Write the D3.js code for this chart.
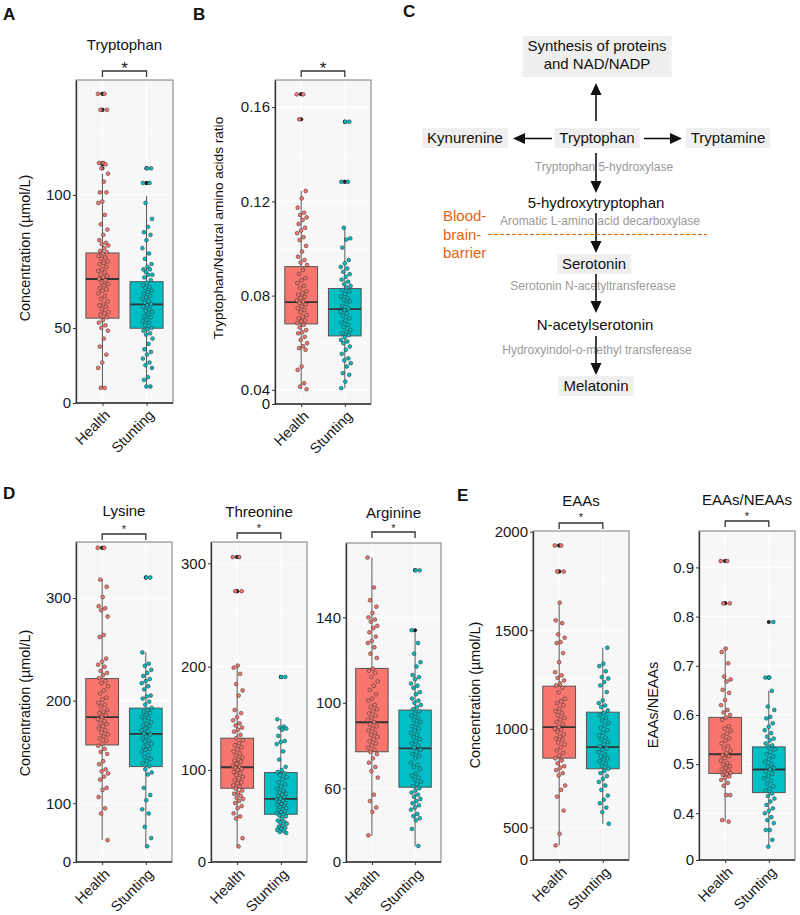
<!DOCTYPE html>
<html>
<head>
<meta charset="utf-8">
<script src="https://cdn.jsdelivr.net/npm/d3@7"></script>
<style>
  body { margin: 0; background: #fff; }
  svg { font-family: "Liberation Sans", Arial, sans-serif; }
</style>
</head>
<body>
<svg id="fig" width="800" height="915"></svg>
<script>
// DATA ------------------------------------
const groups = ["Health", "Stunting"]

// stats = [lower whisker, Q1, median, Q3, upper whisker]
const trpHealth = [138,138,132,132,112,112,111.5,110,108,105,101,101,97.5,97,92.5,89,87,85,83,82,81.5,81,80,79,78.5,78,77,76.5,76,75,74.5,74,73,72,71.5,71,70,69.5,69,68.5,68,67,66.5,66,65,64.5,64,63,62,61,60,59,58.5,58,57,56,55.5,55,54,53,52,51,50,49,46,43,40,37,35,27.5,27.5]
const trpStunting = [110,110,104.5,104.5,97,91,88,86,85,83,80,78,76,74,73,72,72,71,70,70,69,68,67,66,65.5,65,64,63.5,63,62,61.5,61,60,59.5,59,58.5,58,57,56.5,56,55,54.5,54,53,52.5,52,51,50,49.5,49,48,47.5,46,44,42,41,40,38.5,37,36,35,31.5,30.5,28,28]
const trpStatsH = [27.4, 53.7, 68.4, 78.2, 108]
const trpStatsS = [27.9, 49.9, 58.9, 67.4, 99.6]
const trpTicks = [50, 100]

const ratioHealth = [0.1654,0.1654,0.1548,0.1244,0.1213,0.1173,0.1152,0.1142,0.1132,0.1121,0.1104,0.1088,0.1076,0.1065,0.1048,0.1036,0.1011,0.0987,0.0965,0.0951,0.094,0.093,0.0909,0.0892,0.0874,0.0865,0.0853,0.0841,0.0832,0.0818,0.081,0.0804,0.0795,0.0789,0.078,0.0775,0.077,0.0762,0.0754,0.0746,0.0739,0.073,0.0718,0.071,0.0704,0.0695,0.069,0.0683,0.0676,0.0665,0.0654,0.0645,0.064,0.0625,0.0612,0.0598,0.0585,0.0577,0.057,0.0499,0.0485,0.0428,0.0414,0.0403]
const ratioStunting = [0.1538,0.1538,0.1283,0.1283,0.1088,0.1043,0.1038,0.1004,0.0951,0.0937,0.0922,0.0915,0.0901,0.0891,0.088,0.0868,0.0859,0.0849,0.0841,0.0835,0.0824,0.0817,0.0807,0.0796,0.0789,0.0782,0.0775,0.0765,0.0756,0.0746,0.0739,0.0732,0.0725,0.0714,0.0704,0.0694,0.0685,0.0676,0.0666,0.0654,0.0647,0.064,0.0633,0.0623,0.0612,0.0605,0.0598,0.0584,0.057,0.0553,0.0534,0.0525,0.0513,0.0499,0.0471,0.0464,0.0435,0.0407]
const ratioStatsH = [0.0403, 0.068, 0.0772, 0.0923, 0.1244]
const ratioStatsS = [0.0407, 0.0629, 0.0743, 0.083, 0.1088]
const ratioTicks = [0.04, 0.08, 0.12, 0.16]

const lysHealth = [349,349,318,311,301,292,290,288,282,264,262,241,238,235,233,229,227,225,222,219,217,214,210,207,203,201,198,196,194,191,189,188,186,184,182,180,178,177,175,173,171,169,167,165,163,161,158,156,153,150,148,141,138,133,131,129,126,123,115,113,106,95,90,64]
const lysStunting = [320,320,247,236,234,230,227,224,221,219,217,214,211,205,204,202,199,196,193,191,189,188,186,184,183,181,179,177,176,175,173,171,170,168,167,165,163,161,160,158,156,155,153,152,150,147,145,143,141,139,136,133,130,128,115,108,103,94,90,77,66,58]
const lysStatsH = [64, 156.8, 184, 221.5, 318.5]
const lysStatsS = [57.7, 135.7, 167.6, 192.7, 247]
const lysTicks = [100, 200, 300]

const thrHealth = [306,306,273,273,201,199,193,183,177,172,158,155,151,148,145,143,141,139,137,134,131,129,126,124,122,120,118,116,114,112,110,109,108,106,104,103,102,101,100,98,97,95,93,92,90,88,87,85,84,82,80,78,77,75,73,72,70,68,65,63,58,55,53,34,26]
const thrStunting = [190,190,149,142,141,140,139,133,128,127,125,118,110,103,100,98,97,95,93,91,88,86,84,82,80,78,77,76,75,74,72,71,70,69,68,67,66,65,64,63,62,61,60,59,58,57,56,55,53,51,50,49,48,46,45,44,43,42,41,40,39]
const thrStatsH = [25.7, 82.3, 102.6, 130.7, 201.6]
const thrStatsS = [38.7, 57.1, 71.9, 97.4, 149.4]
const thrTicks = [100, 200, 300]

const argHealth = [168,154,148,145,142,140,139,138,136,135,133,131,129,128,126,123,121,116,115,114,112,110,108,106,104,102,101,99,98,97,96,95,94,93,92,91,90,89,88,87,86,85,84,83,82,81,80,79,78,77,76,74,72,70,68,65,57,54,51,49,38]
const argStunting = [162,162,134,128,123,119,117,113,112,111,109,108,107,105,104,102,101,100,99,98,97,96,95,94,93,92,91,90,89,88,87,86,85,84,83,82,81,80,79,78,77,76,75,74,72,71,70,69,67,66,65,64,63,62,61,60,59,58,57,56,55,54,53,52,51,50,48,47,46,45,41,33]
const argStatsH = [37.7, 77.1, 90.9, 116.1, 168]
const argStatsS = [32.7, 60.5, 78.7, 96.6, 133.7]
const argTicks = [60, 100, 140]

const eaaHealth = [1930,1930,1798,1798,1640,1550,1536,1479,1462,1440,1435,1384,1338,1287,1271,1258,1245,1230,1220,1208,1185,1152,1140,1130,1120,1102,1090,1080,1068,1055,1046,1035,1022,1010,1000,995,985,971,960,950,944,930,920,905,890,878,864,850,839,825,810,802,790,775,763,712,690,656,585,467,408]
const eaaStunting = [1411,1330,1318,1292,1262,1255,1237,1220,1186,1144,1130,1118,1110,1093,1080,1068,1055,1042,1030,1017,1005,992,980,966,955,944,932,920,910,900,893,882,870,860,850,843,835,822,810,797,785,775,760,746,730,712,690,661,640,622,600,577,518]
const eaaStatsH = [408, 851, 1008, 1216, 1640]
const eaaStatsS = [518, 797, 907, 1084, 1411]
const eaaTicks = [500, 1000, 1500, 2000]

const eneHealth = [0.913,0.913,0.827,0.827,0.735,0.728,0.705,0.678,0.672,0.668,0.651,0.645,0.63,0.62,0.61,0.605,0.6,0.595,0.59,0.577,0.572,0.568,0.562,0.557,0.552,0.548,0.542,0.537,0.532,0.527,0.522,0.518,0.516,0.512,0.507,0.502,0.499,0.496,0.492,0.489,0.487,0.484,0.482,0.48,0.478,0.475,0.472,0.468,0.462,0.456,0.437,0.437,0.386,0.383]
const eneStunting = [0.789,0.676,0.676,0.649,0.617,0.61,0.596,0.593,0.583,0.576,0.569,0.563,0.556,0.552,0.548,0.542,0.538,0.535,0.53,0.525,0.52,0.515,0.51,0.505,0.5,0.495,0.492,0.489,0.485,0.48,0.476,0.471,0.466,0.46,0.455,0.45,0.446,0.44,0.435,0.43,0.424,0.417,0.41,0.405,0.4,0.392,0.386,0.38,0.366,0.366,0.346,0.332]
const eneStatsH = [0.383, 0.481, 0.52, 0.595, 0.735]
const eneStatsS = [0.332, 0.442, 0.489, 0.535, 0.649]
const eneTicks = [0.4, 0.5, 0.6, 0.7, 0.8, 0.9]

// LAYOUT ----------------------------------
const fill = {Health: "#F8766D", Stunting: "#00BFC4"}
const svg = d3.select("#fig")

const panels = [
  {title: "Tryptophan", pts: [trpHealth, trpStunting], stats: [trpStatsH, trpStatsS], ticks: trpTicks, fmt: d3.format("d"),
   x0: 76, x1: 173, y0: 80, y1: 403, ylim: [21.8, 143.2], titleY: 50, bracketY: 71, starY: 74, starSize: 17,
   ylab: "Concentration (µmol/L)", ylabX: 25, ylabY: 248, ylabSize: 14.4},
  {title: "", pts: [ratioHealth, ratioStunting], stats: [ratioStatsH, ratioStatsS], ticks: ratioTicks, fmt: d3.format(".2f"),
   x0: 275, x1: 371, y0: 80, y1: 404, ylim: [0.034, 0.1715], titleY: 50, bracketY: 71, starY: 74, starSize: 17,
   ylab: "Tryptophan/Neutral amino acids ratio", ylabX: 218, ylabY: 228, ylabSize: 13.6},
  {title: "Lysine", pts: [lysHealth, lysStunting], stats: [lysStatsH, lysStatsS], ticks: lysTicks, fmt: d3.format("d"),
   x0: 76, x1: 172, y0: 542, y1: 862, ylim: [42.7, 354.6], titleY: 516, bracketY: 534, starY: 533, starSize: 11,
   ylab: "Concentration (µmol/L)", ylabX: 25, ylabY: 703, ylabSize: 14.4},
  {title: "Threonine", pts: [thrHealth, thrStunting], stats: [thrStatsH, thrStatsS], ticks: thrTicks, fmt: d3.format("d"),
   x0: 211, x1: 307, y0: 542, y1: 862, ylim: [10.9, 320.6], titleY: 517, bracketY: 533, starY: 532, starSize: 11},
  {title: "Arginine", pts: [argHealth, argStunting], stats: [argStatsH, argStatsS], ticks: argTicks, fmt: d3.format("d"),
   x0: 346, x1: 441, y0: 543, y1: 862, ylim: [25.5, 174.8], titleY: 518, bracketY: 532, starY: 532, starSize: 11},
  {title: "EAAs", pts: [eaaHealth, eaaStunting], stats: [eaaStatsH, eaaStatsS], ticks: eaaTicks, fmt: d3.format("d"),
   x0: 533, x1: 629, y0: 531, y1: 860, ylim: [334, 2003.5], titleY: 506, bracketY: 523, starY: 521, starSize: 11,
   ylab: "Concentration (µmol/L)", ylabX: 475, ylabY: 695, ylabSize: 14.4},
  {title: "EAAs/NEAAs", pts: [eneHealth, eneStunting], stats: [eneStatsH, eneStatsS], ticks: eneTicks, fmt: d3.format(".1f"),
   x0: 699, x1: 795, y0: 531, y1: 860, ylim: [0.305, 0.974], titleY: 505, bracketY: 521, starY: 520, starSize: 11,
   ylab: "EAAs/NEAAs", ylabX: 653, ylabY: 705, ylabSize: 14.4}
]

// fixed jitter spread from the point's index (golden-ratio sequence)
const jit = i => ((i * 0.6180339887) % 1) - 0.5

function drawPanel(p) {
  const g = svg.append("g")
  const x = d3.scalePoint().domain(groups).range([p.x0, p.x1]).padding(0.6)
  const step = x.step()
  const y = d3.scaleLinear().domain(p.ylim).range([p.y1, p.y0])

  g.append("rect")
    .attr("x", p.x0).attr("y", p.y0)
    .attr("width", p.x1 - p.x0).attr("height", p.y1 - p.y0)
    .attr("fill", "#f7f7f7")

  // grid
  const d = p.ticks[1] - p.ticks[0]
  const minor = [p.ticks[0] - d / 2].concat(p.ticks.map(t => t + d / 2))
    .filter(v => v > p.ylim[0] && v < p.ylim[1])
  g.selectAll(".minor").data(minor).enter().append("line")
    .attr("x1", p.x0).attr("x2", p.x1)
    .attr("y1", v => y(v)).attr("y2", v => y(v))
    .attr("stroke", "#fff").attr("stroke-width", 0.6)
  g.selectAll(".major").data(p.ticks).enter().append("line")
    .attr("x1", p.x0).attr("x2", p.x1)
    .attr("y1", v => y(v)).attr("y2", v => y(v))
    .attr("stroke", "#fff").attr("stroke-width", 1.1)
  g.selectAll(".vgrid").data(groups).enter().append("line")
    .attr("x1", k => x(k)).attr("x2", k => x(k))
    .attr("y1", p.y0).attr("y2", p.y1)
    .attr("stroke", "#fff").attr("stroke-width", 1.1)

  const bw = step * 0.75
  groups.forEach((k, gi) => {
    const s = p.stats[gi]
    const cx = x(k)
    // whiskers
    g.append("line").attr("x1", cx).attr("x2", cx).attr("y1", y(s[3])).attr("y2", y(s[4]))
      .attr("stroke", "#5a5a5a").attr("stroke-width", 1)
    g.append("line").attr("x1", cx).attr("x2", cx).attr("y1", y(s[0])).attr("y2", y(s[1]))
      .attr("stroke", "#5a5a5a").attr("stroke-width", 1)
    g.append("rect")
      .attr("x", cx - bw / 2).attr("width", bw)
      .attr("y", y(s[3])).attr("height", y(s[1]) - y(s[3]))
      .attr("fill", fill[k]).attr("stroke", "#555").attr("stroke-width", 1)
    g.append("line").attr("x1", cx - bw / 2).attr("x2", cx + bw / 2)
      .attr("y1", y(s[2])).attr("y2", y(s[2]))
      .attr("stroke", "#333").attr("stroke-width", 1.8)

    // boxplot outliers in black at the centre
    const eps = (p.ylim[1] - p.ylim[0]) * 0.001
    const out = p.pts[gi].filter(v => v > s[4] + eps || v < s[0] - eps)
    g.selectAll(null).data(out).enter().append("circle")
      .attr("cx", cx).attr("cy", v => y(v)).attr("r", 2)
      .attr("fill", "#222")
  })

  // jittered points
  groups.forEach((k, gi) => {
    const cx = x(k)
    g.selectAll(null).data(p.pts[gi]).enter().append("circle")
      .attr("cx", (v, i) => cx + 0.8 + jit(i + gi * 3) * step * 0.24)
      .attr("cy", v => y(v))
      .attr("r", 1.9)
      .attr("fill", fill[k])
      .attr("stroke", "#333").attr("stroke-width", 0.55)
  })

  g.append("rect")
    .attr("x", p.x0).attr("y", p.y0)
    .attr("width", p.x1 - p.x0).attr("height", p.y1 - p.y0)
    .attr("fill", "none").attr("stroke", "#7a7a7a").attr("stroke-width", 1)

  // axes
  const yAxis = d3.axisLeft(y)
    .tickValues([p.ylim[0]].concat(p.ticks))
    .tickFormat(v => v === p.ylim[0] ? "0" : p.fmt(v))
    .tickSize(3).tickSizeOuter(0).tickPadding(2)
  const ya = g.append("g").attr("transform", `translate(${p.x0},0)`).call(yAxis)
  ya.selectAll("text").attr("font-size", 15).attr("fill", "#1a1a1a")
  ya.selectAll("line").attr("stroke", "#333")
  ya.select(".domain").attr("stroke", "#333").attr("stroke-width", 1.3)

  const xAxis = d3.axisBottom(x).tickSize(3).tickSizeOuter(0)
  const xa = g.append("g").attr("transform", `translate(0,${p.y1})`).call(xAxis)
  xa.select(".domain").attr("stroke", "#333").attr("stroke-width", 1.3)
    .attr("d", `M${p.x0},0H${p.x1}`)
  xa.selectAll("line").attr("stroke", "#333")
  xa.selectAll("text")
    .attr("font-size", 14.5).attr("fill", "#1a1a1a")
    .attr("text-anchor", "end")
    .attr("x", 0).attr("y", 0).attr("dy", 0)
    .attr("transform", "translate(8,13) rotate(-45)")

  // title, bracket and star
  if (p.title) {
    g.append("text").attr("x", (p.x0 + p.x1) / 2).attr("y", p.titleY)
      .attr("text-anchor", "middle").attr("font-size", 15).attr("fill", "#111")
      .text(p.title)
  }
  const xa0 = x(groups[0]), xa1 = x(groups[1])
  g.append("path")
    .attr("d", `M${xa0},${p.bracketY + 6}V${p.bracketY}H${xa1}V${p.bracketY + 6}`)
    .attr("fill", "none").attr("stroke", "#333").attr("stroke-width", 1.3)
  g.append("text").attr("x", (xa0 + xa1) / 2).attr("y", p.starY)
    .attr("text-anchor", "middle").attr("font-size", p.starSize).attr("fill", "#222")
    .text("*")

  if (p.ylab) {
    g.append("text")
      .attr("transform", `translate(${p.ylabX},${p.ylabY}) rotate(-90)`)
      .attr("text-anchor", "middle").attr("dy", "0.35em")
      .attr("font-size", p.ylabSize).attr("fill", "#111")
      .text(p.ylab)
  }
}

panels.forEach(drawPanel)

// panel letters
const letters = [["A", 3, 20], ["B", 193, 20], ["C", 403, 17], ["D", 3, 499], ["E", 457, 501]]
svg.selectAll(".letter").data(letters).enter().append("text")
  .attr("x", d => d[1]).attr("y", d => d[2])
  .attr("font-size", 17).attr("font-weight", "bold").attr("fill", "#111")
  .text(d => d[0])

// PANEL C: tryptophan pathway ------------
const nodes = [
  {lines: ["Synthesis of proteins", "and NAD/NADP"], cx: 597, top: 36, box: true},
  {lines: ["Kynurenine"], cx: 465, top: 128, box: true},
  {lines: ["Tryptophan"], cx: 597, top: 128, box: true},
  {lines: ["Tryptamine"], cx: 728, top: 128, box: true},
  {lines: ["5-hydroxytryptophan"], cx: 596, top: 193, box: false},
  {lines: ["Serotonin"], cx: 594, top: 254, box: true},
  {lines: ["N-acetylserotonin"], cx: 595, top: 315, box: false},
  {lines: ["Melatonin"], cx: 596, top: 376, box: true}
]
const enzymes = [
  ["Tryptophan 5-hydroxylase", 604, 171],
  ["Aromatic L-amino acid decarboxylase", 600, 225],
  ["Serotonin N-acetyltransferease", 593, 290],
  ["Hydroxyindol-o-methyl transferease", 597, 354]
]
const arrows = [
  [596, 121, 596, 83], [552, 138.5, 513, 138.5], [644, 138.5, 682, 138.5],
  [596, 153, 596, 193], [596, 213, 596, 253], [596, 274, 596, 313], [596, 336, 596, 375]
]

const cg = svg.append("g")
cg.selectAll(".enz").data(enzymes).enter().append("text")
  .attr("x", d => d[1]).attr("y", d => d[2])
  .attr("text-anchor", "middle").attr("font-size", 12).attr("fill", "#9a9a9a")
  .text(d => d[0])

nodes.forEach(n => {
  const ng = cg.append("g")
  const bg = ng.append("rect").attr("fill", "#efefef")
  const texts = n.lines.map((l, i) => ng.append("text")
    .attr("x", n.cx).attr("y", n.top + 15 + i * 18)
    .attr("text-anchor", "middle").attr("font-size", 15).attr("fill", "#111")
    .text(l))
  if (n.box) {
    const w = d3.max(texts, t => t.node().getComputedTextLength()) + 10
    bg.attr("x", n.cx - w / 2).attr("y", n.top)
      .attr("width", w).attr("height", 20 + (n.lines.length - 1) * 21)
  } else bg.remove()
})

arrows.forEach(a => {
  const [x1, y1, x2, y2] = a
  const ang = Math.atan2(y2 - y1, x2 - x1)
  const L = 12, W = 5.5
  const bx = x2 - L * Math.cos(ang), by = y2 - L * Math.sin(ang)
  cg.append("line").attr("x1", x1).attr("y1", y1).attr("x2", bx).attr("y2", by)
    .attr("stroke", "#111").attr("stroke-width", 1.6)
  const px = -Math.sin(ang) * W, py = Math.cos(ang) * W
  cg.append("path")
    .attr("d", `M${x2},${y2}L${bx + px},${by + py}L${bx - px},${by - py}Z`)
    .attr("fill", "#111")
})

// blood-brain barrier
const bbbColor = "#e8620c"
cg.selectAll(".bbb").data(["Blood-", "brain-", "barrier"]).enter().append("text")
  .attr("x", 443).attr("y", (d, i) => 221 + i * 18.5)
  .attr("font-size", 15).attr("fill", bbbColor)
  .text(d => d)
cg.append("line").attr("x1", 488).attr("x2", 707).attr("y1", 234.5).attr("y2", 234.5)
  .attr("stroke", bbbColor).attr("stroke-width", 1.2).attr("stroke-dasharray", "4,2")
</script>
</body>
</html>
